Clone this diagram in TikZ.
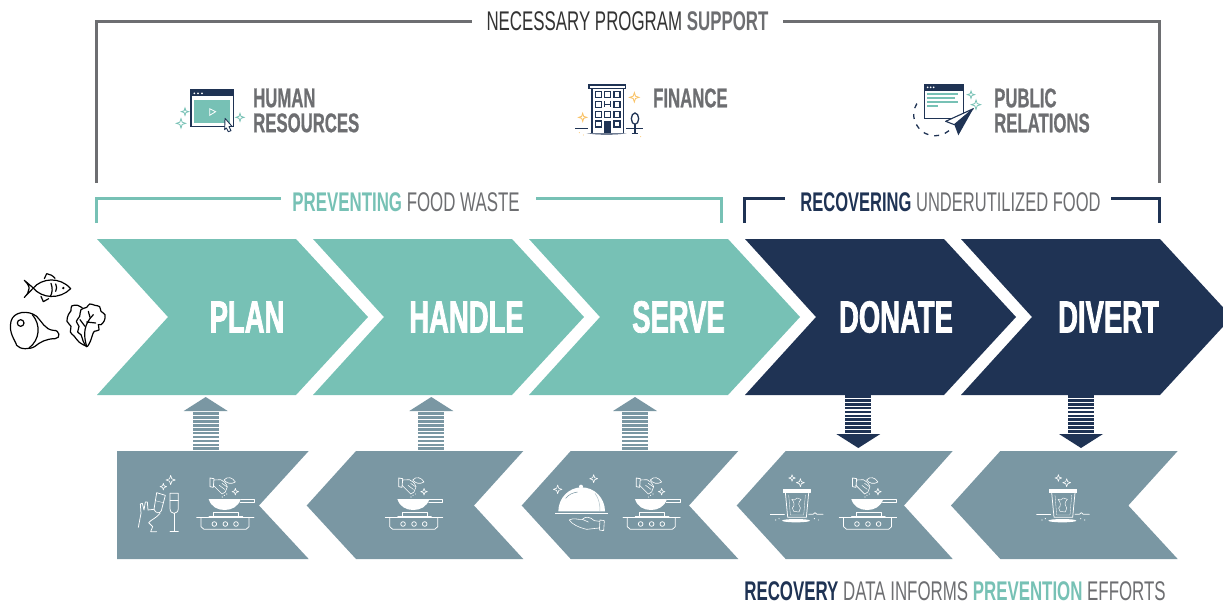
\documentclass[tikz,border=0pt]{standalone}
\usepackage{fontspec}
\newfontfamily\labelfont[FakeStretch=0.625]{Liberation Sans}
\newfontfamily\recoverfont[FakeStretch=0.612]{Liberation Sans}
\newfontfamily\stagefont[FakeStretch=0.61,FakeBold=1.6]{Liberation Sans Bold}
\newfontfamily\sidefont[FakeStretch=0.62,FakeBold=0.7]{Liberation Sans Bold}
\definecolor{tealstage}{HTML}{77C1B5}
\definecolor{navystage}{HTML}{1F3354}
\definecolor{slatestage}{HTML}{7A97A3}
\definecolor{greytext}{HTML}{6D6E71}
\definecolor{sparkgold}{HTML}{F9C46B}
\tikzset{
	stagelabel/.style={font=\stagefont\fontsize{45}{45}\selectfont, text=white, inner sep=0pt},
	sidelabel/.style={font=\sidefont\fontsize{27}{25}\selectfont, text=greytext, inner sep=0pt, align=left, anchor=west},
	headlabel/.style={font=\labelfont\fontsize{27}{27}\selectfont, text=greytext, inner xsep=12pt, inner ysep=0pt},
	bracketline/.style={line width=3pt},
	iconline/.style={white, line width=0.75pt, line join=round, line cap=round},
	inkline/.style={black, line width=1.2pt, line join=round, line cap=round},
}
\def\stageright[#1](#2:#3){\fill[#1] (#2,239) -- (#3,239) -- ({#3+72},317) -- (#3,395) -- (#2,395) -- ({#2+71},317) -- cycle;}
\def\stageleft[#1](#2:#3:#4:#5){\fill[#1] (#2,505.5) -- (#3,451) -- (#4,451) -- (#5,505.5) -- (#4,559) -- (#3,559) -- cycle;}
\def\sparkle[#1](#2:#3:#4){\draw[#1] ({#2+#4},#3) -- ({#2+.25*#4},{#3-.25*#4}) -- (#2,{#3-#4}) -- ({#2-.25*#4},{#3-.25*#4}) -- ({#2-#4},#3) -- ({#2-.25*#4},{#3+.25*#4}) -- (#2,{#3+#4}) -- ({#2+.25*#4},{#3+.25*#4}) -- cycle;}
\newcommand{\uparrowstripes}[1]{
	\fill[slatestage] ({#1-22},411) -- (#1,397) -- ({#1+22},411) -- cycle;
	\foreach \n in {0,...,9} \fill[slatestage] ({#1-13},{412.3+3.9*\n}) rectangle ({#1+13},{414.9+3.9*\n});
}
\newcommand{\downarrowstripes}[1]{
	\fill[navystage] ({#1-22},434) -- (#1,448) -- ({#1+22},434) -- cycle;
	\foreach \n in {0,...,9} \fill[navystage] ({#1-13},{395+3.9*\n}) rectangle ({#1+13},{397.7+3.9*\n});
}
\newcommand{\panicon}[1]{
	\begin{scope}[shift={({130+#1},470)},scale=1/3]
		\draw[iconline] (200,143) -- (372,143);
		\draw[iconline] (213,144) -- (213,170) -- (222,178) -- (348,178) -- (357,170) -- (357,144);
		\draw[iconline] (250,138) -- (250,127) -- (325,127) -- (325,138);
		\draw[iconline] (237,138) -- (338,138);
		\foreach \cx in {253,286,318} \draw[iconline] (\cx,162) circle (7);
		\fill[white] (236,87) -- (332,87) .. controls (325,110) and (305,120) .. (284,120) .. controls (262,120) and (243,110) .. (236,87) -- cycle;
		\draw[iconline] (332,88) -- (372,88) -- (372,97) -- (330,97);
		\draw[iconline] (240,24) -- (252,26) -- (250,52) -- (240,50) -- cycle;
		\draw[iconline, line width=0.6pt] (252,30) -- (272,29) .. controls (282,32) and (288,40) .. (292,50) -- (286,66) -- (276,72) .. controls (268,64) and (258,54) .. (250,46);
		\draw[iconline, line width=0.5pt] (268,46) -- (284,58) (276,40) -- (290,50);
		\draw[iconline, line width=0.6pt] (282,30) .. controls (292,18) and (308,22) .. (316,36) .. controls (303,44) and (290,40) .. (282,30);
		\fill[white] (283,76) circle (1.8) (277,81) circle (1.8) (290,72) circle (1.8);
		\sparkle[iconline, line width=0.6pt](316:65:10);
	\end{scope}
}
\newcommand{\binicon}[1]{
	\begin{scope}[shift={({1030+#1},470)},scale=1/3]
		\draw[iconline, fill=white] (58,58) rectangle (140,68);
		\draw[iconline] (65,68) -- (72,142) -- (128,142) -- (135,68);
		\draw[iconline, line width=0.3pt] (75,75) -- (80,135) -- (120,135) -- (125,75);
		\draw[iconline] (20,133) -- (62,133);
		\draw[iconline] (135,133) -- (148,133) -- (154,128) -- (160,133) -- (178,133);
		\fill[white] (97,152) ellipse (42 and 5);
		\draw[iconline, line width=0.45pt] (84,88) -- (92,90) -- (100,84) -- (112,88) .. controls (102,98) and (104,108) .. (110,114) -- (106,126) -- (90,124) -- (86,114) .. controls (94,108) and (92,96) .. (84,88) -- cycle;
		\fill[white] (36,150) circle (1.8) (46,146) circle (1.8) (152,146) circle (1.8) (164,150) circle (1.8);
		\sparkle[iconline, line width=0.6pt](85:24:10);
		\sparkle[iconline, line width=0.6pt](110:38:12);
	\end{scope}
}

\begin{document}
\begin{tikzpicture}[x=1pt, y=-1pt]
			%%%%% START %%%%%
			\path[use as bounding box, clip] (0, 0) rectangle (1223, 603);
			
			\stageright[tealstage](97:296);
			\stageright[tealstage](313:512);
			\stageright[tealstage](529:728);
			\stageright[navystage](745:944);
			\stageright[navystage](961:1160);
			
			\node[stagelabel] (plan) at (247, 317) {PLAN};
			\node[stagelabel] (handle) at (466.5, 317) {HANDLE};
			\node[stagelabel] (serve) at (678.5, 317) {SERVE};
			\node[stagelabel] (donate) at (896, 317) {DONATE};
			\node[stagelabel] (divert) at (1108.5, 317) {DIVERT};
			
			\fill[slatestage] (117, 451) -- (308.7, 451) -- (259, 505.5) -- (308.7, 559) -- (117, 559) -- cycle;
			\stageleft[slatestage](306.7:356:523.3:474);
			\stageleft[slatestage](521.7:570.7:738.3:689);
			\stageleft[slatestage](736.7:785.7:952.7:904);
			\stageleft[slatestage](951:1000.3:1177.7:1128.3);
			
			\uparrowstripes{205.7}
			\uparrowstripes{431.3}
			\uparrowstripes{635}
			\downarrowstripes{858.3}
			\downarrowstripes{1081}
			
			%%%%% BRACKETS %%%%%
			\node[headlabel, inner xsep=14pt] (support) at (627.5, 21.5) {\color{black!80}NECESSARY PROGRAM \color{greytext}\bfseries SUPPORT};
			\coordinate (supportleft) at (96.5, 183);
			\coordinate (supportright) at (1159, 183);
			\draw[bracketline, greytext] (supportleft) |- (support.west);
			\draw[bracketline, greytext] (supportright) |- (support.east);
			
			\node[headlabel] (prevent) at (406, 202) {\color{tealstage}\bfseries PREVENTING \mdseries\color{greytext}FOOD WASTE};
			\coordinate (preventleft) at (96.5, 223);
			\coordinate (preventright) at (721, 223);
			\coordinate (preventtopleft) at (281, 198);
			\coordinate (preventtopright) at (536, 198);
			\draw[bracketline, tealstage] (preventleft) |- (preventtopleft);
			\draw[bracketline, tealstage] (preventright) |- (preventtopright);
			
			\node[headlabel] (recover) at (950.5, 202) {\recoverfont\color{navystage}\bfseries RECOVERING \mdseries\color{greytext}UNDERUTILIZED FOOD};
			\coordinate (recoverleft) at (744, 223);
			\coordinate (recoverright) at (1159, 223);
			\coordinate (recovertopleft) at (785, 198);
			\coordinate (recovertopright) at (1111, 198);
			\draw[bracketline, navystage] (recoverleft) |- (recovertopleft);
			\draw[bracketline, navystage] (recoverright) |- (recovertopright);
			
			\node[sidelabel] (human) at (253, 110.5) {HUMAN\\RESOURCES};
			\node[sidelabel] (finance) at (653, 98) {FINANCE};
			\node[sidelabel] (public) at (994, 110.5) {PUBLIC\\RELATIONS};
			
			\node[headlabel] (recovery) at (955, 591) {\color{navystage}\bfseries RECOVERY \mdseries\color{greytext}DATA INFORMS \color{tealstage}\bfseries PREVENTION \mdseries\color{greytext}EFFORTS};
			
			%%%%% HUMAN RESOURCES ICON %%%%%
			\begin{scope}[shift={(0, 60)}, scale=1/3]
				\draw[navystage, line width=1.6pt] (573, 89) rectangle (700, 200);
				\fill[navystage] (572, 88) rectangle (701, 108);
				\foreach \cx in {583, 594, 606} \fill[white] (\cx, 100) circle (2.8);
				\fill[tealstage] (581, 120) rectangle (691, 188);
				\draw[white, line width=0.8pt] (629, 146) -- (647, 155) -- (629, 166) -- cycle;
				\draw[navystage, fill=white, line width=0.9pt, line join=round] (675, 175) -- (696, 199) -- (687, 200) -- (693, 212) -- (685, 215) -- (679, 204) -- (674, 209) -- cycle;
				\sparkle[tealstage, line width=0.8pt](555:155:11);
				\sparkle[tealstage, line width=0.8pt](543:190:14);
				\sparkle[tealstage, line width=0.8pt](720:172:12);
			\end{scope}
			
			%%%%% FINANCE ICON %%%%%
			\begin{scope}[shift={(570, 80)}, scale=1/3]
				\fill[navystage] (50, 160) .. controls (80, 165) and (140, 165) .. (170, 160) -- cycle;
				\draw[navystage, line width=1.5pt] (66, 25) -- (66, 160) (160, 25) -- (160, 160);
				\draw[navystage, line width=1.4pt] (57, 15) rectangle (166, 25);
				\foreach \cy in {43, 73, 103, 132} \foreach \cx in {85, 141} \draw[navystage, line width=1.2pt] ({\cx-9}, {\cy-9}) rectangle ({\cx+9}, {\cy+9});
				\foreach \cy in {43, 103} \draw[navystage, line width=1.2pt] (104, {\cy-9}) rectangle (122, {\cy+9});
				\draw[navystage, line width=1.2pt] (104, 64) -- (104, 82) (122, 64) -- (122, 82) (104, 73) -- (122, 73);
				\fill[navystage] (102, 122) rectangle (124, 160);
				\draw[navystage, line width=1.2pt] (15, 145) -- (55, 145) (168, 145) -- (220, 145);
				\draw[navystage, line width=1.2pt] (195, 133) -- (195, 160) (185, 160) -- (205, 160);
				\draw[navystage, line width=1.3pt, fill=white] (195, 116) ellipse (11 and 17);
				\sparkle[sparkgold, line width=0.9pt](193:52:14);
				\sparkle[sparkgold, line width=0.9pt](38:112:12);
				\fill[sparkgold] (28, 158) circle (1.6) (40, 165) circle (1.6) (212, 170) circle (1.6);
			\end{scope}
			
			%%%%% PUBLIC RELATIONS ICON %%%%%
			\begin{scope}[shift={(905, 78)}, scale=1/3]
				\draw[navystage, line width=1.6pt] (58, 19) rectangle (176, 121);
				\fill[navystage] (57, 18) rectangle (177, 38);
				\foreach \cx in {68, 77, 86} \fill[white] (\cx, 28) circle (2.8);
				\draw[tealstage, line width=1.1pt] (66, 48) -- (160, 48) (66, 60) -- (150, 60) (66, 72) -- (160, 72) (66, 84) -- (100, 84);
				\draw[navystage, line width=1.3pt, dash pattern=on 5pt off 6pt] (132, 158) .. controls (100, 185) and (45, 178) .. (28, 125) .. controls (22, 100) and (30, 80) .. (45, 66);
				\draw[navystage, fill=white, line width=1.1pt, line join=round] (205, 92) -- (122, 130) -- (148, 140) -- cycle;
				\fill[navystage] (205, 92) -- (148, 140) -- (160, 172) -- cycle;
				\sparkle[tealstage, line width=0.8pt](198:50:11);
				\sparkle[tealstage, line width=0.8pt](213:80:14);
			\end{scope}
			
			%%%%% FOOD %%%%%
			\begin{scope}[shift={(5, 268)}, scale=1/3]
				\draw[inkline] (85, 60) .. controls (110, 30) and (165, 25) .. (197, 62) .. controls (165, 95) and (110, 92) .. (85, 60) -- cycle;
				\draw[inkline] (85, 60) -- (58, 37) .. controls (70, 48) and (74, 60) .. (72, 62) .. controls (72, 72) and (66, 80) .. (58, 88) -- (85, 60);
				\draw[inkline] (118, 32) -- (125, 17) .. controls (135, 18) and (145, 24) .. (150, 31);
				\draw[inkline] (108, 85) -- (115, 101) -- (131, 92);
				\draw[inkline] (138, 46) .. controls (143, 60) and (143, 72) .. (136, 86);
				\draw[inkline] (152, 48) .. controls (156, 55) and (156, 62) .. (152, 70);
				\fill[black] (175, 60) circle (4);
				
				\draw[inkline] (18, 160) .. controls (25, 130) and (70, 125) .. (95, 145) .. controls (110, 160) and (120, 185) .. (145, 187) .. controls (165, 185) and (168, 212) .. (150, 212) .. controls (125, 212) and (105, 222) .. (90, 235) .. controls (75, 245) and (45, 245) .. (35, 232) .. controls (30, 215) and (10, 195) .. (18, 160) -- cycle;
				\draw[inkline] (47, 165) circle (10);
				\draw[inkline] (82, 140) .. controls (108, 170) and (105, 215) .. (72, 240);
				
				\draw[inkline] plot[smooth cycle, tension=0.6] coordinates {(245, 236) (234, 218) (228, 200) (218, 192) (222, 175) (214, 160) (224, 145) (228, 125) (245, 118) (254, 108) (270, 112) (284, 116) (288, 130) (300, 140) (298, 158) (288, 170) (280, 170) (282, 186) (268, 190) (262, 202) (256, 220)};
				\draw[inkline] plot[smooth, tension=0.6] coordinates {(240, 233) (222, 222) (208, 205) (196, 192) (198, 175) (186, 160) (190, 140) (198, 128) (200, 114) (218, 112) (232, 120)};
				\draw[inkline] (245, 236) .. controls (235, 200) and (235, 170) .. (265, 140);
				\draw[inkline] (240, 175) -- (225, 155) (245, 162) -- (272, 165) (255, 148) -- (250, 130);
			\end{scope}
			
			%%%%% LOWER ICONS %%%%%
			\panicon{0}
			\panicon{188.7}
			\panicon{426.3}
			\panicon{642.6}
			\binicon{-266.3}
			\binicon{0}
			
			\begin{scope}[shift={(130, 470)}, scale=1/3]
				\draw[iconline] (120, 70) -- (145, 70) -- (145, 115) .. controls (145, 125) and (138, 130) .. (132, 130) .. controls (126, 130) and (120, 125) .. (120, 115) -- cycle;
				\draw[iconline, line width=0.4pt] (120, 92) -- (145, 92);
				\draw[iconline] (132, 130) -- (132, 184) (120, 185) -- (145, 185);
				\draw[iconline] (80, 68) -- (106, 76) -- (94, 122) .. controls (90, 132) and (76, 130) .. (72, 118) -- cycle;
				\draw[iconline, line width=0.4pt] (76, 92) -- (100, 98);
				\draw[iconline] (25, 172) -- (33, 130) -- (31, 102) -- (37, 100) -- (42, 120) -- (46, 96) -- (52, 96) -- (54, 120) -- (72, 118);
				\draw[iconline] (90, 130) .. controls (78, 145) and (62, 150) .. (56, 158) -- (68, 170) -- (62, 185) -- (80, 185);
				\sparkle[iconline, line width=0.6pt](122:30:14);
				\sparkle[iconline, line width=0.6pt](100:50:10);
			\end{scope}
			
			\begin{scope}[shift={(545, 470)}, scale=1/3]
				\fill[white] (40, 124) arc (180:360:70 and 72) -- cycle;
				\draw[slatestage, line width=0.5pt] (62, 85) .. controls (72, 72) and (85, 68) .. (98, 66);
				\draw[slatestage!60, line width=0.5pt] (150, 70) .. controls (162, 85) and (165, 105) .. (165, 124);
				\fill[white] (108, 50) circle (6);
				\draw[white, line width=1.3pt] (30, 131) -- (188, 131);
				\draw[iconline, line width=0.6pt] (73, 150) .. controls (85, 142) and (100, 150) .. (112, 148) .. controls (122, 138) and (135, 140) .. (148, 152) -- (164, 154);
				\draw[iconline, line width=0.6pt] (73, 150) .. controls (80, 162) and (100, 172) .. (125, 178) -- (162, 174);
				\draw[iconline, line width=0.6pt] (112, 148) -- (130, 156);
				\draw[iconline, line width=0.6pt] (165, 150) -- (178, 152) -- (176, 182) -- (163, 180) -- cycle;
				\sparkle[iconline, line width=0.6pt](38:58:13);
				\sparkle[iconline, line width=0.6pt](146:26:12);
			\end{scope}
			
			%%%%% END %%%%%
		\end{tikzpicture}
\end{document}
